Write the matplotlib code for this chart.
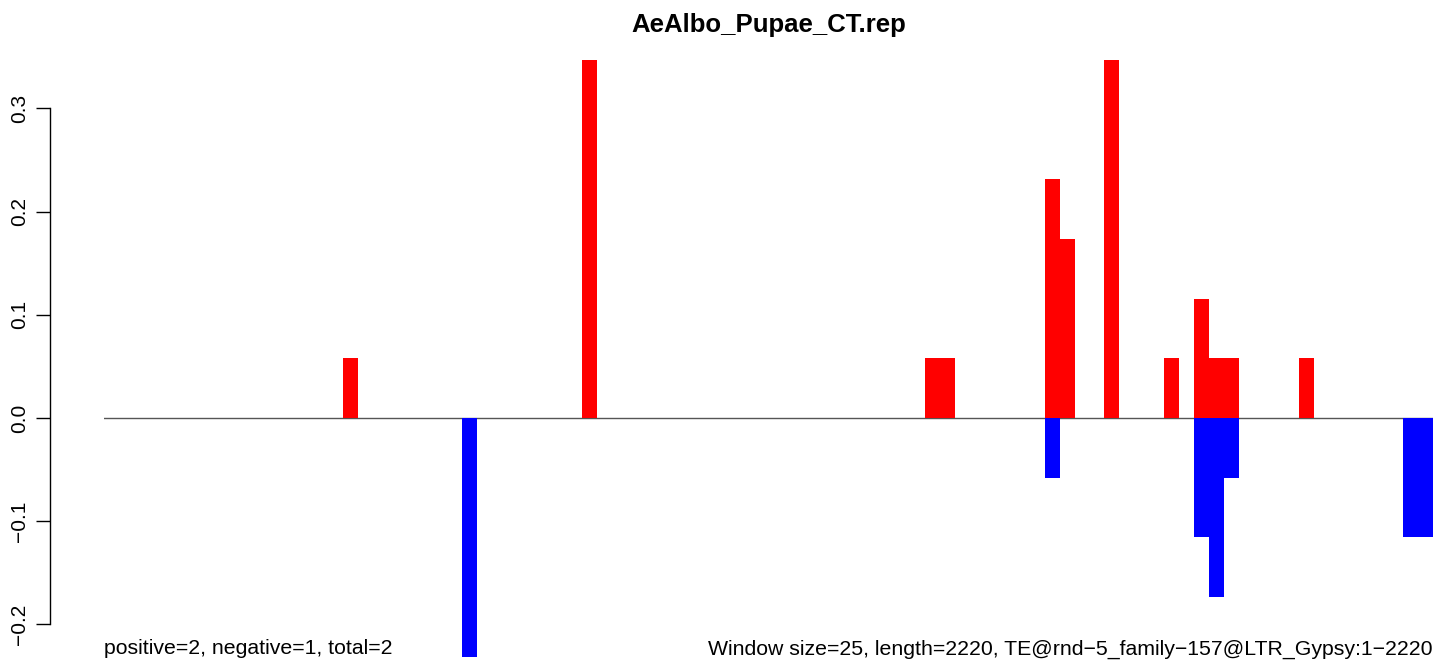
import numpy as np
import matplotlib as mpl
import matplotlib.pyplot as plt

mpl.rcParams["font.family"] = ["Liberation Sans", "DejaVu Sans"]

title = "AeAlbo_Pupae_CT.rep"
n_windows = 89
unit = 0.0578

# window index -> counts (in units of 'unit')
pos_idx = [16, 32, 55, 56, 63, 64, 67, 71, 73, 74, 75, 80]
pos_cnt = [1, 6, 1, 1, 4, 3, 6, 1, 2, 1, 1, 1]
neg_idx = [24, 63, 73, 74, 75, 87, 88]
neg_cnt = [4, 1, 2, 3, 1, 2, 2]

left_text = "positive=2, negative=1, total=2"
right_text = "Window size=25, length=2220, TE@rnd\u22125_family\u2212157@LTR_Gypsy:1\u22122220"

pos = np.zeros(n_windows)
neg = np.zeros(n_windows)
pos[pos_idx] = np.array(pos_cnt) * unit
neg[neg_idx] = -np.array(neg_cnt) * unit

W, H = 1439, 666
fig = plt.figure(figsize=(W / 100, H / 100), dpi=100)
ax = fig.add_axes([104 / W, 1 - 656.6 / H, (1433 - 104) / W, (656.6 - 60) / H])

x = np.arange(n_windows)
ax.axhline(0, color="#555555", lw=1, zorder=1)
ax.bar(x, pos, width=1, align="edge", color="red", lw=0, zorder=2)
ax.bar(x, neg, width=1, align="edge", color="blue", lw=0, zorder=2)

ax.set_xlim(0, n_windows)
ax.set_ylim(neg.min(), pos.max())

for s in ["top", "right", "bottom"]:
    ax.spines[s].set_visible(False)
ax.spines["left"].set_position(("outward", 54 * 0.72))
ax.spines["left"].set_bounds(-0.2, 0.3)
ax.spines["left"].set_linewidth(1)
ax.set_xticks([])
ax.set_yticks([-0.2, -0.1, 0.0, 0.1, 0.2, 0.3])
ax.set_yticklabels(["\u22120.2", "\u22120.1", "0.0", "0.1", "0.2", "0.3"],
                   rotation=90, va="center", fontsize=15)
ax.tick_params(axis="y", length=10, width=1, pad=5)

fig.text((104 + 1433) / 2 / W, 1 - 25 / H, title, fontweight="bold",
         fontsize=18.5, ha="center", va="center")
ax.text(0, -0.229, left_text, fontsize=15.3, ha="left", va="baseline")
ax.text(n_windows, -0.229, right_text, fontsize=15.3, ha="right", va="baseline")

fig.savefig("out.png", dpi=100)
